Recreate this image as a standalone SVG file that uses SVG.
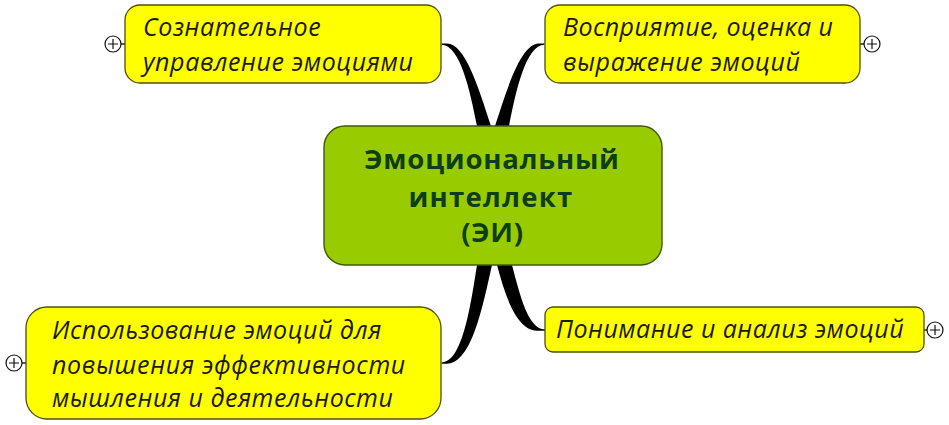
<svg xmlns="http://www.w3.org/2000/svg" width="949" height="425" viewBox="0 0 949 425">
<style>
.n{fill:#ffff00;stroke:#4f4f10;stroke-width:1.3}
.t{font-family:"Open Sans","Noto Sans",sans-serif;font-style:italic;font-size:25px;letter-spacing:.6px;fill:#1a1a0a}
.h{font-family:"Open Sans","Noto Sans",sans-serif;font-weight:700;font-size:27.5px;fill:#0d3d12;text-anchor:middle}
.c{fill:#000;stroke:none}
.s{fill:none;stroke:#000;stroke-width:1.3}
.p{fill:#fff;stroke:#111;stroke-width:1.2}
.pl{fill:none;stroke:#111;stroke-width:1.2}
</style>
<rect width="949" height="425" fill="#fff"/>
<g id="connectors">
<path class="c" d="M441.5 43.500H447C465 44 478 86 491 126H477C470 90 460 45 441.5 44.700Z"/>
<path class="c" d="M544.5 43.500H539C521 44 508 86 495 126H509C516 90 526 45 544.5 44.700Z"/>
<path class="c" d="M441.5 363.700H447C472 363 483 305 492 265H477C470 310 462 362 441.5 362.500Z"/>
<path class="c" d="M545 330.700H537C516 330 505 295 497 265H512C520 295 528 329.400 545 329.500Z"/>
</g>
<g id="node-center">
<rect x="324" y="126" width="338" height="139" rx="21" fill="#99cc00" stroke="#3f5a00" stroke-width="1.4"/>
<text class="h" x="492" y="169" style="letter-spacing:.8px">Эмоциональный</text>
<text class="h" x="491" y="207" style="letter-spacing:1.3px">интеллект</text>
<text class="h" x="492.500" y="242" style="letter-spacing:.7px">(ЭИ)</text>
</g>
<g id="node-tl">
<line class="s" x1="121" y1="44" x2="125" y2="44"/>
<circle class="p" cx="113" cy="44" r="8"/>
<path class="pl" d="M108 44H118M113 39V49"/>
<rect class="n" x="125" y="5" width="316" height="78" rx="15"/>
<text class="t" x="143" y="36">Сознательное</text>
<text class="t" x="143" y="71">управление эмоциями</text>
</g>
<g id="node-tr">
<line class="s" x1="860" y1="44" x2="864" y2="44"/>
<circle class="p" cx="872" cy="44" r="8"/>
<path class="pl" d="M867 44H877M872 39V49"/>
<rect class="n" x="545" y="5" width="315" height="78" rx="15"/>
<text class="t" x="563" y="36" style="letter-spacing:.45px">Восприятие, оценка и</text>
<text class="t" x="563" y="71">выражение эмоций</text>
</g>
<g id="node-bl">
<line class="s" x1="22" y1="363" x2="26" y2="363"/>
<circle class="p" cx="14" cy="363" r="8"/>
<path class="pl" d="M9 363H19M14 358V368"/>
<rect class="n" x="26" y="307" width="415" height="112" rx="21"/>
<text class="t" x="52" y="339" style="letter-spacing:.48px">Использование эмоций для</text>
<text class="t" x="52" y="374" style="letter-spacing:.68px">повышения эффективности</text>
<text class="t" x="52" y="407" style="letter-spacing:.5px">мышления и деятельности</text>
</g>
<g id="node-br">
<line class="s" x1="924" y1="330" x2="928" y2="330"/>
<circle class="p" cx="935" cy="330" r="8"/>
<path class="pl" d="M930 330H940M935 325V335"/>
<rect class="n" x="545" y="307" width="379" height="45" rx="8"/>
<text class="t" x="556" y="338" style="letter-spacing:.48px">Понимание и анализ эмоций</text>
</g>
</svg>
